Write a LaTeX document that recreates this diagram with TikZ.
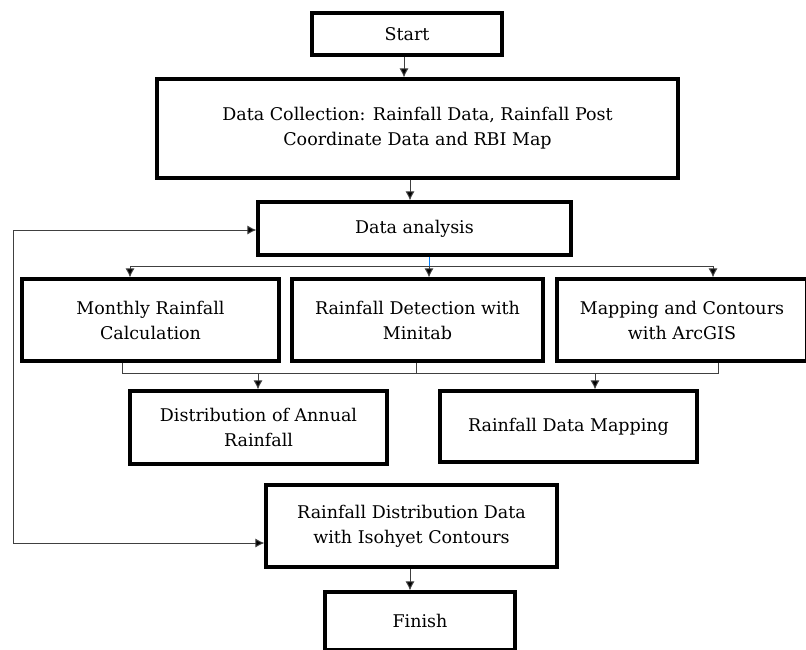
\documentclass[tikz,border=0pt]{standalone}
\usepackage{fontspec}
\setmainfont{DejaVu Serif}
\usetikzlibrary{arrows.meta}
\begin{document}
\begin{tikzpicture}[x=1pt,y=-1pt,
  box/.style={draw=black, line width=3.2pt, align=center, inner sep=0pt,
    font=\fontsize{17.5}{25}\selectfont},
  conn/.style={draw=black!75, line width=1pt},
  tip/.style={Latex[length=9pt,width=9pt,fill=black]},
  arr/.style={conn, -{Latex[length=9pt,width=9pt,fill=black]}},
  biarr/.style={conn, {Latex[length=9pt,width=9pt,fill=black]}-{Latex[length=9pt,width=9pt,fill=black]}}]
\useasboundingbox (0,0) rectangle (806,649);
\node[box, minimum width=190pt, minimum height=42pt] (start) at (407,34) {Start};
\node[box, minimum width=521pt, minimum height=99pt] (collect) at (417.5,128.5)
  {Data Collection: Rainfall Data, Rainfall Post\\Coordinate Data and RBI Map};
\node[box, minimum width=313pt, minimum height=53pt] (analysis) at (414.5,228.5) {Data analysis};
\node[box, minimum width=257pt, minimum height=82pt] (monthly) at (150.5,320)
  {Monthly Rainfall\\Calculation};
\node[box, minimum width=251pt, minimum height=82pt] (detect) at (417.5,320)
  {Rainfall Detection with\\Minitab};
\node[box, minimum width=250pt, minimum height=82pt] (mapping) at (682,320)
  {Mapping and Contours\\with ArcGIS};
\node[box, minimum width=257pt, minimum height=73pt] (distrib) at (258.5,427.5)
  {Distribution of Annual\\Rainfall};
\node[box, minimum width=257pt, minimum height=71pt] (rdmap) at (568.5,426.5)
  {Rainfall Data Mapping};
\node[box, minimum width=291pt, minimum height=82pt] (iso) at (411.5,526)
  {Rainfall Distribution Data\\with Isohyet Contours};
\node[box, minimum width=190pt, minimum height=58pt] (finish) at (420,621) {Finish};
% main flow
\draw[arr] ([xshift=-3pt]start.south) -- ([xshift=-3pt]start.south |- collect.north);
\draw[arr] ([xshift=-7.5pt]collect.south) -- ([xshift=-7.5pt]collect.south |- analysis.north);
% branch
\coordinate (bl) at (130,266);
\coordinate (bm) at (429,266);
\coordinate (br) at (713,266);
\draw[draw=blue!50!cyan, line width=1pt] (analysis.south -| bm) -- (bm);
\draw[conn] (bl) -- (br);
\draw[arr] (bl) -- (bl |- monthly.north);
\draw[arr] (bm) -- (bm |- detect.north);
\draw[arr] (br) -- (br |- mapping.north);
% merge
\coordinate (ml) at (122,373);
\coordinate (mm) at (416,373);
\coordinate (mr) at (718,373);
\draw[conn] (ml |- monthly.south) -- (ml) -- (mr) -- (mr |- mapping.south);
\draw[conn] (mm |- detect.south) -- (mm);
\coordinate (m1) at (258,373);
\coordinate (m2) at (595,373);
\draw[arr] (m1) -- (m1 |- distrib.north);
\draw[arr] (m2) -- (m2 |- rdmap.north);
% to finish
\draw[arr] ([xshift=-1.5pt]iso.south) -- ([xshift=-1.5pt]iso.south |- finish.north);
% feedback
\coordinate (fbt) at (13,230);
\coordinate (fbb) at (13,543);
\draw[biarr] (analysis.west |- fbt) -- (fbt) -- (fbb) -- (iso.west |- fbb);
\end{tikzpicture}
\end{document}
